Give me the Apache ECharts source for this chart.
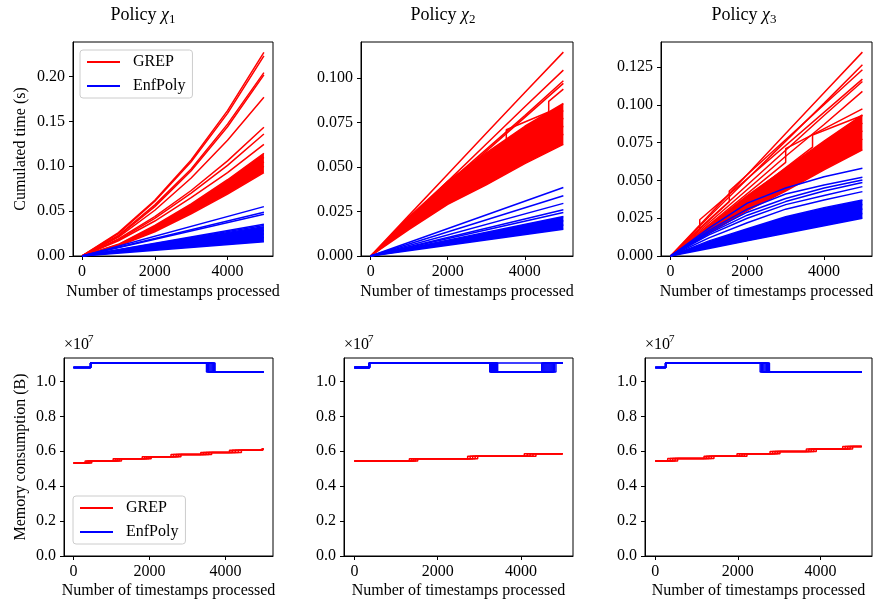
<!DOCTYPE html>
<html>
<head>
<meta charset="utf-8">
<script src="https://cdn.jsdelivr.net/npm/echarts@6/dist/echarts.min.js"></script>
<style>
html, body { margin: 0; padding: 0; background: #fff; }
#main { width: 877px; height: 606px; }
</style>
</head>
<body>
<div id="main"></div>
<script>
// x positions shared by the cumulated-time curves
var steps = [0, 1000, 2000, 3000, 4000, 5000];

// ---- policy 1, cumulated time (s)
var tlRed = [
	[0, 0.026, 0.062, 0.107, 0.162, 0.227],
	[0, 0.025, 0.061, 0.105, 0.159, 0.223],
	[0, 0.023, 0.057, 0.097, 0.147, 0.2044],
	[0, 0.022, 0.055, 0.095, 0.144, 0.2018],
	[0, 0.021, 0.051, 0.087, 0.129, 0.177],
	[0, 0.019, 0.044, 0.073, 0.106, 0.1435],
	[0, 0.018, 0.042, 0.070, 0.101, 0.136],
	[0, 0.017, 0.039, 0.065, 0.093, 0.1245]
];
// dense bundle: first row is its upper edge, last row its lower edge
var tlRedBand = [
	[0, 0.0130, 0.0340, 0.0580, 0.0850, 0.1145],
	[0, 0.0126, 0.0325, 0.0557, 0.0816, 0.1100],
	[0, 0.0121, 0.0310, 0.0532, 0.0778, 0.1050],
	[0, 0.0117, 0.0295, 0.0507, 0.0742, 0.1000],
	[0, 0.0110, 0.0270, 0.0470, 0.0690, 0.0930]
];
// EnfPoly grows linearly, only the value at 5000 is kept
var tlBlueEnd = [0.055, 0.0487, 0.0465, 0.0353, 0.0340];
var tlBlueBandEnd = [0.0327, 0.0285, 0.0245, 0.0205, 0.0160];

// ---- policy 2
var tmRed = [
	[0, 0.023, 0.046, 0.069, 0.092, 0.1147],
	[0, 0.021, 0.042, 0.063, 0.084, 0.1046],
	[0, 0.021, 0.041, 0.060, 0.079, 0.0986],
	[0, 0.020, 0.040, 0.059, 0.078, 0.0971]
];
var tmRedBand = [
	[0, 0.0220, 0.0420, 0.0580, 0.0730, 0.0858],
	[0, 0.0203, 0.0390, 0.0545, 0.0692, 0.0818],
	[0, 0.0190, 0.0363, 0.0510, 0.0650, 0.0775],
	[0, 0.0176, 0.0338, 0.0475, 0.0610, 0.0730],
	[0, 0.0163, 0.0313, 0.0440, 0.0570, 0.0685],
	[0, 0.0150, 0.0290, 0.0400, 0.0520, 0.0628]
];
var tmJumpX = [0, 3520, 3520, 4620, 4620, 5000];
var tmJumpY = [0, 0.064, 0.071, 0.081, 0.087, 0.0939];
var tmBlueEnd = [0.0385, 0.0339, 0.0296, 0.0260, 0.0245];
var tmBlueBandEnd = [0.0222, 0.0198, 0.0174, 0.0151];

// ---- policy 3
var trRed = [
	[0, 0.027, 0.054, 0.081, 0.108, 0.1349],
	[0, 0.026, 0.051, 0.076, 0.101, 0.1265],
	[0, 0.024, 0.047, 0.070, 0.093, 0.1155],
	[0, 0.022, 0.044, 0.066, 0.087, 0.1089]
];
var trRedBand = [
	[0, 0.0200, 0.0400, 0.0580, 0.0760, 0.0934],
	[0, 0.0188, 0.0373, 0.0545, 0.0714, 0.0880],
	[0, 0.0176, 0.0347, 0.0509, 0.0669, 0.0828],
	[0, 0.0164, 0.0321, 0.0473, 0.0624, 0.0774],
	[0, 0.0150, 0.0300, 0.0430, 0.0570, 0.0702]
];
var trJumpX = [
	[0, 760, 760, 5000],
	[0, 1530, 1530, 5000],
	[0, 3000, 3000, 5000],
	[0, 3700, 3700, 4300, 5000]
];
var trJumpY = [
	[0, 0.018, 0.024, 0.117],
	[0, 0.036, 0.043, 0.1232],
	[0, 0.062, 0.071, 0.0974],
	[0, 0.072, 0.080, 0.086, 0.093]
];
var trBlue = [
	[0, 0.0185, 0.035, 0.045, 0.0525, 0.058],
	[0, 0.017, 0.031, 0.041, 0.047, 0.0521],
	[0, 0.016, 0.029, 0.038, 0.045, 0.0503],
	[0, 0.015, 0.027, 0.036, 0.043, 0.0486],
	[0, 0.014, 0.025, 0.034, 0.040, 0.0459],
	[0, 0.012, 0.022, 0.031, 0.037, 0.0426]
];
var trBlueBand = [
	[0, 0.0100, 0.0180, 0.0260, 0.0320, 0.0371],
	[0, 0.0088, 0.0160, 0.0233, 0.0291, 0.0341],
	[0, 0.0076, 0.0140, 0.0206, 0.0262, 0.0311],
	[0, 0.0063, 0.0120, 0.0179, 0.0233, 0.0281],
	[0, 0.0050, 0.0100, 0.0150, 0.0200, 0.0250]
];

// ---- memory consumption, in units of 1e7 B (step lines)
var blRedLevels = [0.532, 0.544, 0.557, 0.569, 0.581, 0.593, 0.606, 0.615];
var blRedSteps = [
	[305, 1044, 1809, 2566, 3349, 4105, 4887],
	[350, 1100, 1870, 2630, 3420, 4180, 4910],
	[390, 1150, 1925, 2700, 3490, 4260, 4935],
	[435, 1205, 1985, 2760, 3560, 4340, 4960],
	[480, 1262, 2044, 2827, 3635, 4418, 4982]
];
var blBlueLevels = [1.080, 1.106, 1.054];
var blBlueSteps = [[450, 3500], [450, 3530], [450, 3560], [450, 3590], [450, 3620],
	[450, 3650], [450, 3680], [450, 3705], [450, 3725]];

var bmRedLevels = [0.544, 0.557, 0.571, 0.585];
var bmRedSteps = [[1320, 2720, 4080], [1370, 2780, 4150], [1420, 2840, 4220],
	[1470, 2900, 4290], [1520, 2960, 4360]];
var bmBlueFlatLevels = [1.080, 1.106];
var bmBlueFlatSteps = [360];
var bmBlueLevels = [1.080, 1.106, 1.054, 1.106];
var bmBlueSteps = [[360, 3250, 4500], [360, 3265, 4525], [360, 3280, 4550], [360, 3295, 4575],
	[360, 3310, 4600], [360, 3325, 4625], [360, 3340, 4650], [360, 3355, 4675],
	[360, 3370, 4700], [360, 3385, 4725], [360, 3400, 4750], [360, 3415, 4775],
	[360, 3425, 4800], [360, 3440, 4840]];

var brRedLevels = [0.544, 0.558, 0.572, 0.585, 0.599, 0.613, 0.627];
var brRedSteps = [
	[300, 1180, 1980, 2780, 3660, 4540],
	[360, 1240, 2040, 2840, 3720, 4600],
	[420, 1300, 2100, 2900, 3780, 4660],
	[480, 1360, 2160, 2960, 3840, 4720],
	[540, 1420, 2220, 3020, 3900, 4780]
];
var brBlueLevels = [1.080, 1.106, 1.054];
var brBlueSteps = [[250, 2540], [250, 2570], [250, 2600], [250, 2630], [250, 2660],
	[250, 2690], [250, 2720], [250, 2745], [250, 2765]];

var xTicks = [0, 2000, 4000];
var policies = ['1', '2', '3'];

var FONT = 'Liberation Serif';
var RED = '#ff0000', BLUE = '#0000ff';

var myChart = echarts.init(document.getElementById('main'));

var grids = [
	{left: 73, top: 42, width: 200, height: 214},
	{left: 361, top: 42, width: 212, height: 214},
	{left: 661, top: 42, width: 211, height: 214},
	{left: 64, top: 358, width: 209, height: 198},
	{left: 344, top: 358, width: 229, height: 198},
	{left: 645, top: 358, width: 227, height: 198}
];
var yMax = [0.2385, 0.1204, 0.1416, 1.134, 1.134, 1.134];
var yStep = [0.05, 0.025, 0.025, 0.2, 0.2, 0.2];
var yDec = [2, 3, 3, 1, 1, 1];

var series = [];
function colorOf(name) { return name == 'GREP' ? RED : BLUE; }
function addLine(g, name, data, step) {
	series.push({
		type: 'line', name: name, xAxisIndex: g, yAxisIndex: g,
		data: data, symbol: 'none', step: step || false, silent: true,
		lineStyle: {color: colorOf(name), width: 1.5},
		itemStyle: {color: colorOf(name)}
	});
}
// fill the bundle between its upper and lower edge
function addBand(g, name, lower, upper) {
	series.push({
		type: 'custom', name: name, xAxisIndex: g, yAxisIndex: g, silent: true,
		itemStyle: {color: colorOf(name)},
		data: [[0, 0]],
		renderItem: function (params, api) {
			var pts = upper.map(function (p) { return api.coord(p); })
				.concat(lower.slice().reverse().map(function (p) { return api.coord(p); }));
			return {type: 'polygon', shape: {points: pts}, style: {fill: colorOf(name)}};
		}
	});
}
function curve(ys) { return steps.map(function (x, i) { return [x, ys[i]]; }); }
function ray(v) { return [[0, 0], [5000, v]]; }
function pairs(xs, ys) { return xs.map(function (x, i) { return [x, ys[i]]; }); }
function stairs(xs, levels) {
	var d = [[0, levels[0]]];
	xs.forEach(function (x, i) { d.push([x, levels[i + 1]]); });
	d.push([5000, levels[levels.length - 1]]);
	return d;
}
function curveBand(g, name, rows) {
	addBand(g, name, curve(rows[rows.length - 1]), curve(rows[0]));
	rows.forEach(function (ys) { addLine(g, name, curve(ys)); });
}
function rayBand(g, name, ends) {
	addBand(g, name, ray(ends[ends.length - 1]), ray(ends[0]));
	ends.forEach(function (v) { addLine(g, name, ray(v)); });
}

tlRed.forEach(function (ys) { addLine(0, 'GREP', curve(ys)); });
curveBand(0, 'GREP', tlRedBand);
tlBlueEnd.forEach(function (v) { addLine(0, 'EnfPoly', ray(v)); });
rayBand(0, 'EnfPoly', tlBlueBandEnd);

tmRed.forEach(function (ys) { addLine(1, 'GREP', curve(ys)); });
curveBand(1, 'GREP', tmRedBand);
addLine(1, 'GREP', pairs(tmJumpX, tmJumpY));
tmBlueEnd.forEach(function (v) { addLine(1, 'EnfPoly', ray(v)); });
rayBand(1, 'EnfPoly', tmBlueBandEnd);

trRed.forEach(function (ys) { addLine(2, 'GREP', curve(ys)); });
curveBand(2, 'GREP', trRedBand);
trJumpX.forEach(function (xs, i) { addLine(2, 'GREP', pairs(xs, trJumpY[i])); });
trBlue.forEach(function (ys) { addLine(2, 'EnfPoly', curve(ys)); });
curveBand(2, 'EnfPoly', trBlueBand);

blRedSteps.forEach(function (xs) { addLine(3, 'GREP', stairs(xs, blRedLevels), 'end'); });
blBlueSteps.forEach(function (xs) { addLine(3, 'EnfPoly', stairs(xs, blBlueLevels), 'end'); });

bmRedSteps.forEach(function (xs) { addLine(4, 'GREP', stairs(xs, bmRedLevels), 'end'); });
addLine(4, 'EnfPoly', stairs(bmBlueFlatSteps, bmBlueFlatLevels), 'end');
bmBlueSteps.forEach(function (xs) { addLine(4, 'EnfPoly', stairs(xs, bmBlueLevels), 'end'); });

brRedSteps.forEach(function (xs) { addLine(5, 'GREP', stairs(xs, brRedLevels), 'end'); });
brBlueSteps.forEach(function (xs) { addLine(5, 'EnfPoly', stairs(xs, brBlueLevels), 'end'); });

var txt = {color: '#000', fontFamily: FONT, fontSize: 16};

var xAxes = grids.map(function (g, i) {
	return {
		gridIndex: i, type: 'value', min: -250, max: 5250,
		axisLine: {show: true, onZero: false, lineStyle: {color: '#000', width: 1}},
		axisTick: {show: true, customValues: xTicks, length: 4, lineStyle: {color: '#000'}},
		axisLabel: {customValues: xTicks, margin: 8, color: '#000', fontFamily: FONT, fontSize: 16,
			formatter: function (v) { return String(v); }},
		splitLine: {show: false},
		name: 'Number of timestamps processed', nameLocation: 'middle', nameGap: i < 3 ? 28 : 27,
		nameTextStyle: txt
	};
});
var yAxes = grids.map(function (g, i) {
	var ax = {
		gridIndex: i, type: 'value', min: 0, max: yMax[i], interval: yStep[i],
		axisLine: {show: true, onZero: false, lineStyle: {color: '#000', width: 1}},
		axisTick: {show: true, length: 4, lineStyle: {color: '#000'}},
		axisLabel: {
			showMaxLabel: false, margin: 8, color: '#000', fontFamily: FONT, fontSize: 16,
			formatter: function (v) { return v.toFixed(yDec[i]); }
		},
		splitLine: {show: false}
	};
	if (i == 0) {
		ax.name = 'Cumulated time (s)'; ax.nameLocation = 'middle'; ax.nameGap = 44; ax.nameTextStyle = txt;
	}
	if (i == 3) {
		ax.name = 'Memory consumption (B)'; ax.nameLocation = 'middle'; ax.nameGap = 35; ax.nameTextStyle = txt;
	}
	return ax;
});

var graphics = [];
var titleX = [143, 443, 744];
policies.forEach(function (p, i) {
	graphics.push({
		type: 'text', x: titleX[i], y: 15,
		style: {
			text: '{p|Policy }{c|χ}{s|' + p + '}', align: 'center', verticalAlign: 'middle',
			rich: {
				p: {fontFamily: FONT, fontSize: 18, lineHeight: 22, fill: '#000'},
				c: {fontFamily: FONT, fontSize: 18, fontStyle: 'italic', lineHeight: 22, fill: '#000'},
				s: {fontFamily: FONT, fontSize: 13, lineHeight: 12, verticalAlign: 'bottom', fill: '#000'}
			}
		}
	});
	graphics.push({type: 'text', x: grids[i + 3].left, y: 345,
		style: {text: '×10', fontFamily: FONT, fontSize: 16, fill: '#000', verticalAlign: 'middle'}});
	graphics.push({type: 'text', x: grids[i + 3].left + 24, y: 339,
		style: {text: '7', fontFamily: FONT, fontSize: 11, fill: '#000', verticalAlign: 'middle'}});
});

var legendBase = {
	data: ['GREP', 'EnfPoly'], orient: 'vertical', icon: 'rect',
	itemWidth: 33, itemHeight: 2, itemGap: 8, selectedMode: false,
	backgroundColor: 'rgba(255,255,255,0.8)', borderColor: '#cccccc', borderWidth: 1, borderRadius: 3,
	padding: [4, 7, 4, 7],
	textStyle: {color: '#000', fontFamily: FONT, fontSize: 16, lineHeight: 16, padding: [0, 0, 0, 8]}
};

var option = {
	animation: false,
	grid: grids.map(function (g) {
		return Object.assign({show: true, borderColor: '#000', borderWidth: 1, backgroundColor: 'transparent'}, g);
	}),
	xAxis: xAxes,
	yAxis: yAxes,
	legend: [
		Object.assign({left: 80, top: 50}, legendBase),
		Object.assign({left: 73, top: 496}, legendBase)
	],
	graphic: graphics,
	series: series
};
myChart.setOption(option);
</script>
</body>
</html>
